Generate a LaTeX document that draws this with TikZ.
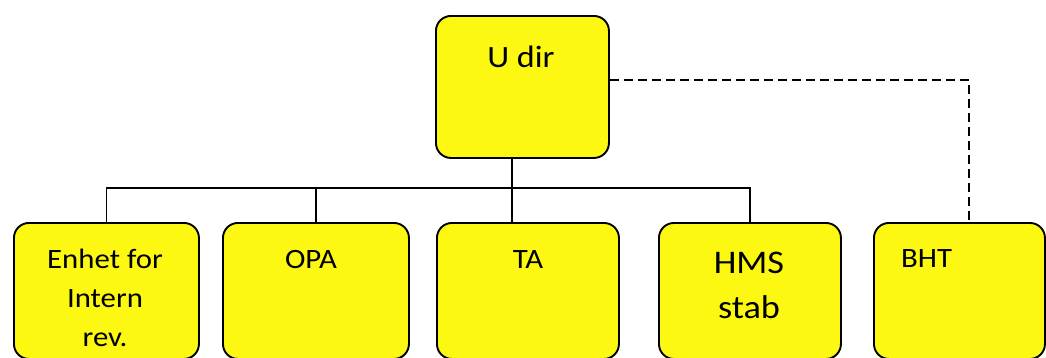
\documentclass[tikz,border=0pt]{standalone}
\usepackage{fontspec}
\setmainfont[FakeStretch=1.1]{Carlito}
\usepackage{tikz}
\usetikzlibrary{positioning}
\definecolor{boxyellow}{RGB}{252,248,18}
\tikzset{
    unit/.style=
    { % Sets the properties for each box
        draw,
        line width=1.9pt,
        rounded corners=15pt,
        fill=boxyellow,
        minimum height=136pt,
        inner sep=0pt,
        anchor=north west
    },
    small/.style={font=\fontsize{28}{39}\selectfont, inner sep=0pt, align=center}, % Text in the lower boxes
    big/.style={font=\fontsize{33}{45}\selectfont, inner sep=0pt, align=center},
    link/.style={draw, line width=1.1pt}, % Solid lines of the tree
    dashlink/.style={draw, line width=1.5pt, dash pattern=on 9pt off 5pt} % Dashed line to BHT
}

\begin{document}
\begin{tikzpicture}[x=1pt,y=-1pt]
\useasboundingbox (0,0) rectangle (1046,357);

\node [unit,minimum width=173pt,minimum height=142pt] (udir) at (435,15) {};
\node [unit,minimum width=185pt] (enhet) at (13,222) {};
\node [unit,minimum width=186pt] (opa)   at (222,222) {};
\node [unit,minimum width=182pt] (ta)    at (436,222) {};
\node [unit,minimum width=182pt] (hms)   at (658,222) {};
\node [unit,minimum width=171pt] (bht)   at (873,222) {};

% multi-line texts: base is the last line
\node [big,anchor=base,font=\fontsize{31}{40}\selectfont] (udirtxt) at (521,67) {U dir};
\node [small,anchor=base] (enhettxt) at (105,346) {Enhet for\\Intern\\rev.};
\node [small,anchor=base] (opatxt) at (311,268) {OPA};
\node [small,anchor=base] (tatxt) at (528,268) {TA};
\node [big,anchor=base] (hmstxt) at (749,318) {HMS\\stab};
\node [small,anchor=base west] (bhttxt) at (901,267) {BHT};

\coordinate (bus) at (512,188);
\coordinate (corner) at (969,80);

\draw [link] (udir.south -| bus) -- (ta.north -| bus);
\draw [link] (enhet.north) |- (hms.north |- bus) -- (hms.north);
\draw [link] (opa.north) -- (opa.north |- bus);
\draw [dashlink] (udir.east |- corner) -| (bht.north -| corner);
\end{tikzpicture}
\end{document}
